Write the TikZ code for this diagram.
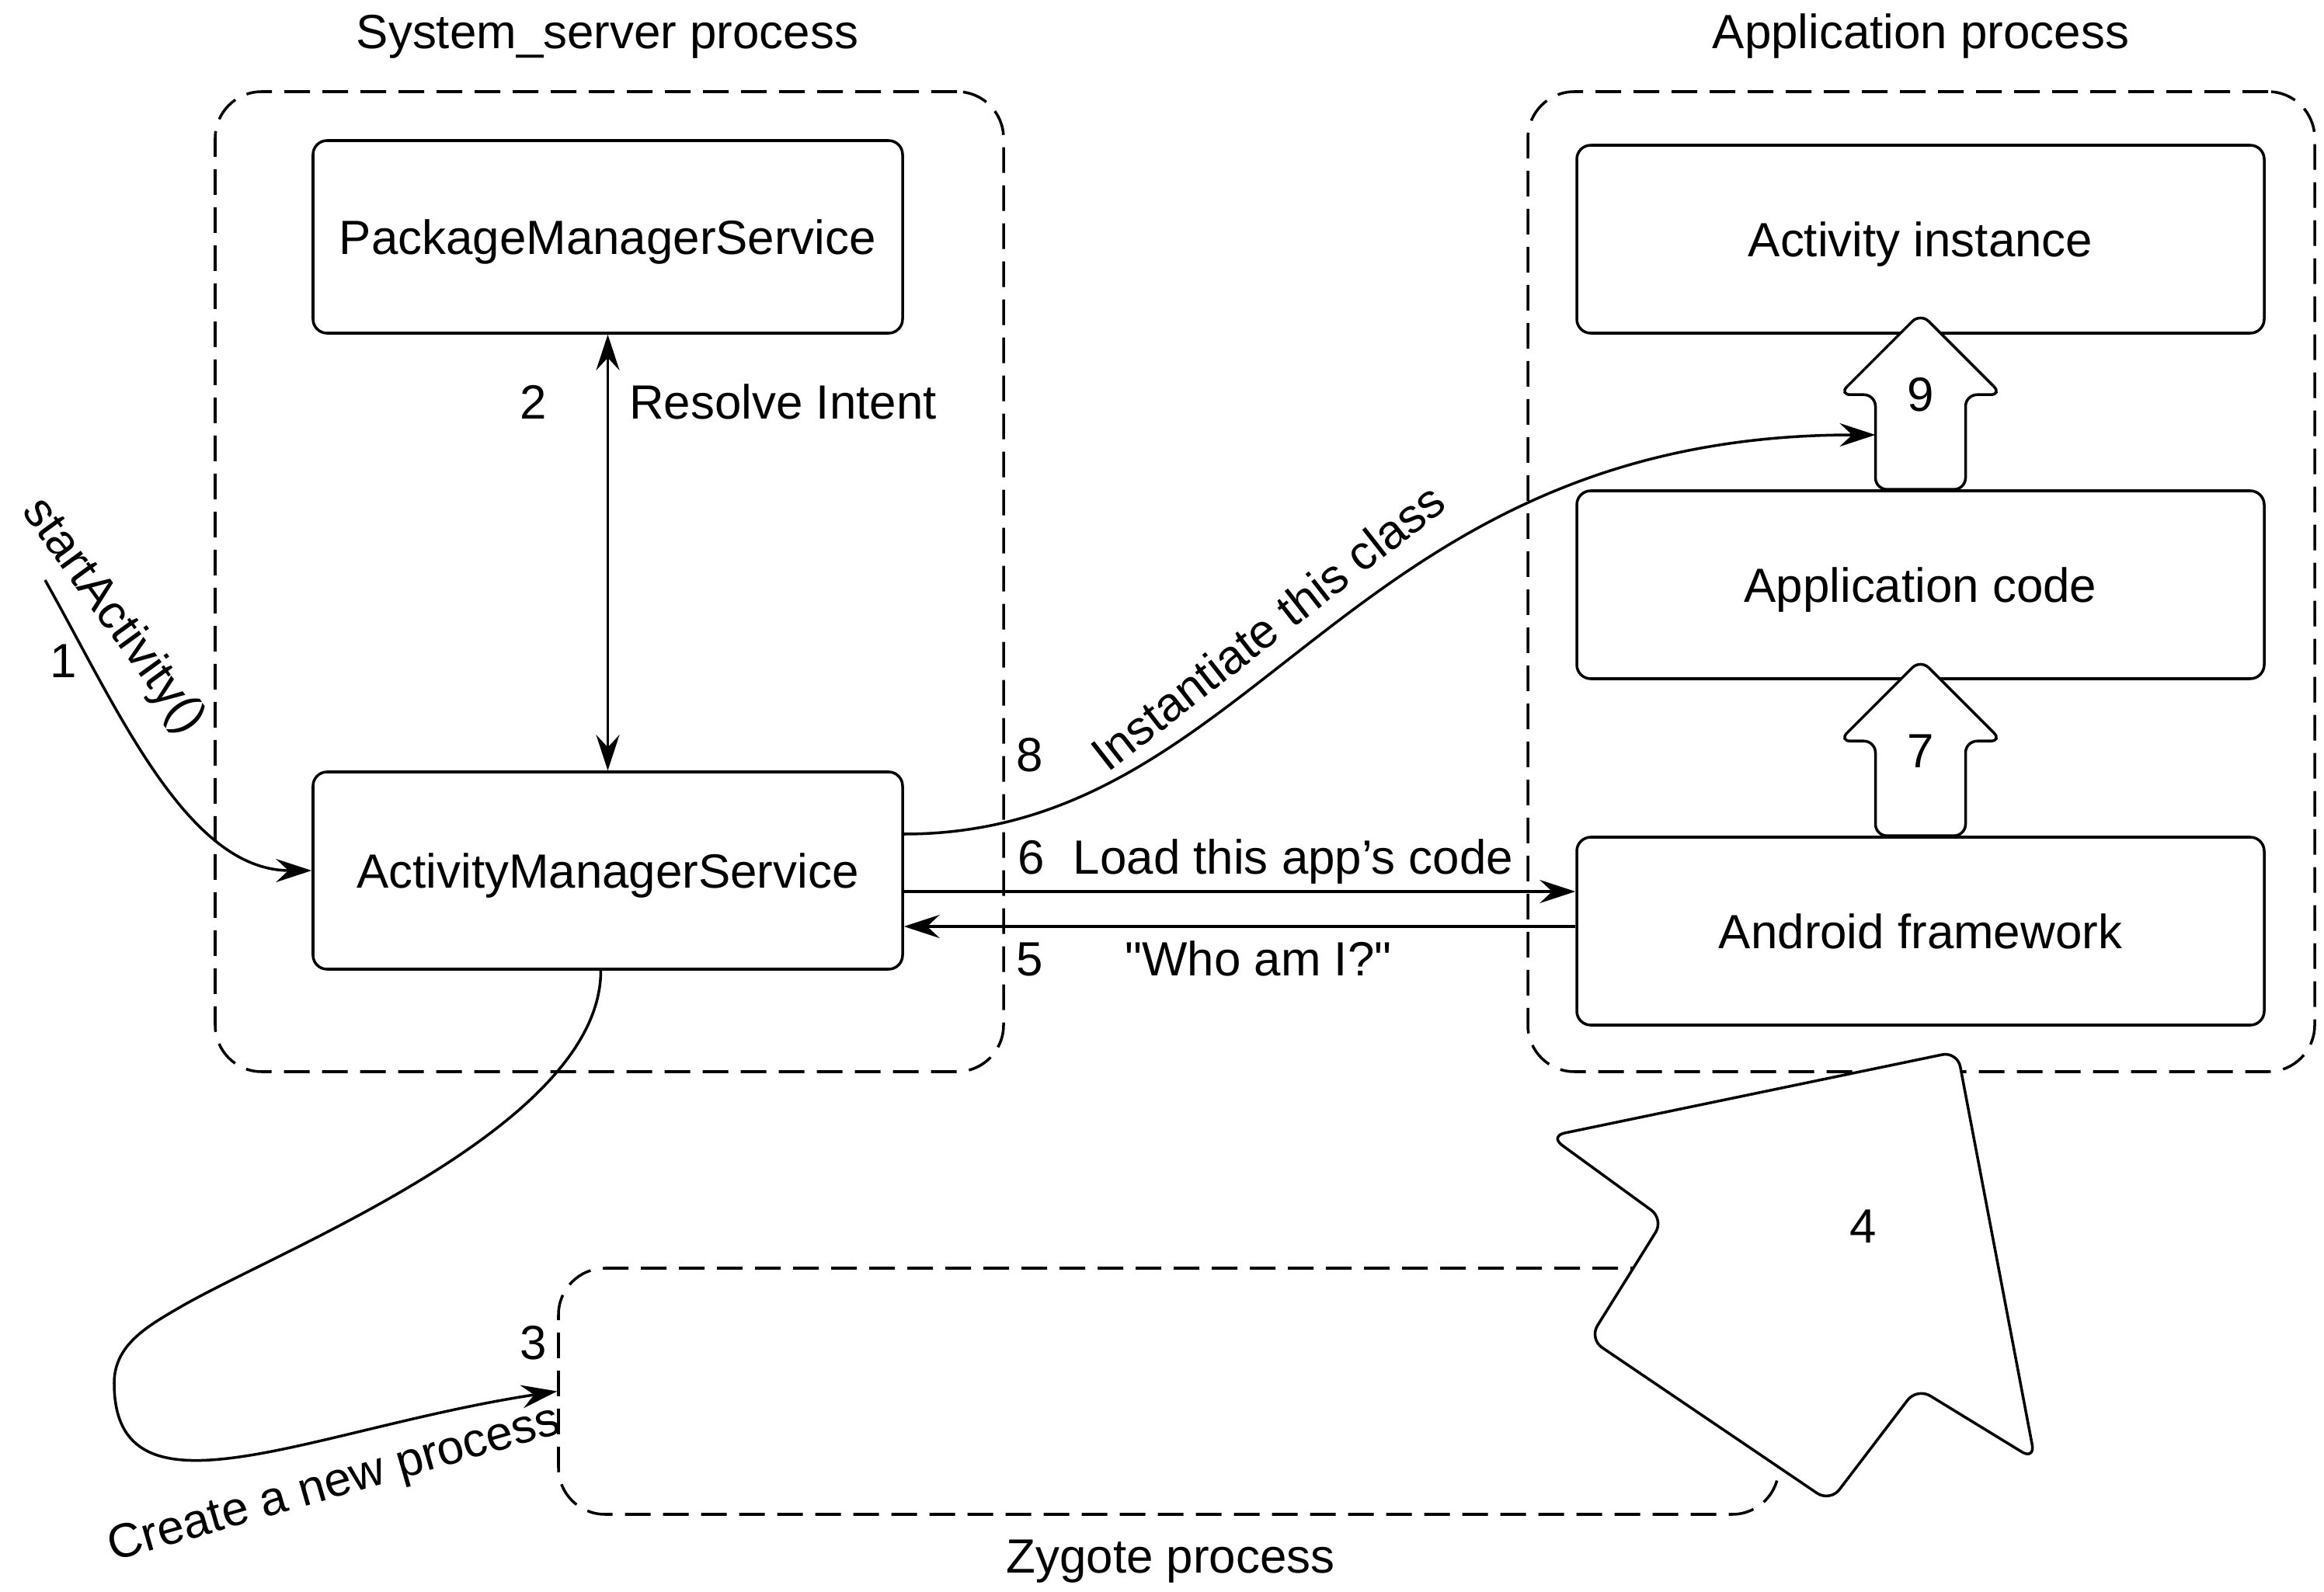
\documentclass[tikz,border=0pt]{standalone}
\usepackage{fontspec}
\setmainfont{Liberation Sans}
\usetikzlibrary{arrows.meta,positioning}

\tikzstyle{procbox}=[draw,line width=1pt,dash pattern=on 3.3mm off 1.6mm,rounded corners=6mm,inner sep=0pt]
\tikzstyle{compbox}=[draw,line width=1pt,rounded corners=1.8mm,inner sep=0pt,text depth=0pt]
\tikzstyle{conn}=[line width=1pt,->]
\tikzstyle{blockarrow}=[draw,fill=white,line width=1pt,rounded corners=1.5mm]

\begin{document}
\begin{tikzpicture}[>={Stealth[length=4.6mm,width=3mm,inset=1.6mm]},font=\fontsize{17.6}{21}\selectfont]
    \useasboundingbox (0,0) rectangle (29.92,-20.50);

    % process boundaries
    \node[procbox,minimum width=10.15cm,minimum height=12.62cm] (sys) at (7.845,-7.49) {};
    \node[procbox,minimum width=10.13cm,minimum height=12.62cm] (app) at (24.735,-7.49) {};
    \node[procbox,minimum width=15.71cm,minimum height=3.17cm] (zyg) at (15.045,-17.915) {};
    \node[anchor=base] (systitle) at (7.82,-0.63) {System\_server process};
    \node[anchor=base] (apptitle) at (24.73,-0.63) {Application process};
    \node[anchor=base] (zygtitle) at (15.07,-20.25) {Zygote process};

    % services and app layers
    \node[compbox,minimum width=7.59cm,minimum height=2.48cm] (pms) at (7.825,-3.05) {PackageManagerService};
    \node[compbox,minimum width=7.59cm,minimum height=2.54cm] (ams) at (7.825,-11.21) {ActivityManagerService};
    \node[compbox,minimum width=8.85cm,minimum height=2.42cm] (act) at (24.725,-3.08) {Activity instance};
    \node[compbox,minimum width=8.85cm,minimum height=2.42cm] (code) at (24.725,-7.53) {Application code};
    \node[compbox,minimum width=8.85cm,minimum height=2.42cm] (fw) at (24.725,-11.99) {Android framework};

    % 1
    \coordinate (start) at (0.58,-7.47);
    \draw[conn] (start) .. controls (1.5,-9.1) and (2.4,-11.21) .. (ams.west);
    \node[rotate=-54] (startlbl) at (1.45,-7.94) {startActivity()};
    \node (n1) at (0.82,-8.51) {1};

    % 2
    \draw[conn,<->] (pms.south) -- (ams.north);
    \node[anchor=base] (n2) at (6.87,-5.40) {2};
    \node[anchor=base] (resolvelbl) at (10.08,-5.40) {Resolve Intent};

    % 3
    \draw[conn] ([xshift=-0.9mm]ams.south) .. controls +(0,-2) and (3.64,-16.07) .. (2.34,-16.82)
        .. controls (1.91,-17.07) and (1.47,-17.31) .. (1.47,-17.81)
        .. controls (1.47,-19.7) and (4.0,-18.4) .. (zyg.west);
    \node (n3) at (6.87,-17.29) {3};
    \node[rotate=16] (createlbl) at (4.31,-19.13) {Create a new process};

    % 5 and 6
    \coordinate (y6) at (0,-11.48);
    \coordinate (y5) at (0,-11.93);
    \draw[conn] (ams.east |- y6) -- (fw.west |- y6);
    \draw[conn] (fw.west |- y5) -- (ams.east |- y5);
    \node[anchor=base] (n6) at (13.28,-11.25) {6};
    \node[anchor=base] (loadlbl) at (16.65,-11.25) {Load this app’s code};
    \node[anchor=base] (n5) at (13.26,-12.56) {5};
    \node[anchor=base] (wholbl) at (16.20,-12.56) {\addfontfeatures{Ligatures=TeXOff}"Who am I?"};

    % 8
    \coordinate (y8) at (0,-10.74);
    \coordinate (a9in) at (24.145,-5.60);
    \draw[conn] (ams.east |- y8) .. controls (16.2,-10.74) and (17.3,-5.60) .. (a9in);
    \node[anchor=base] (n8) at (13.26,-9.93) {8};
    \node[rotate=38] (instlbl) at (16.32,-8.07) {Instantiate this class};

    % 7 and 9
    \foreach \base/\num/\up in {code/9/1.22,fw/7/1.09}{
        \draw[blockarrow,shift={(\base.north)}] (-0.58,0) -- (-0.58,1.22) -- (-1.05,1.22) -- (0,2.27)
            -- (1.05,1.22) -- (0.58,1.22) -- (0.58,0) -- cycle;
        \node at ([yshift=\up cm]\base.north) {\num};
    }

    % 4
    \draw[blockarrow,rounded corners=2mm] (25.20,-13.54) -- (26.20,-18.80) -- (24.68,-17.87) -- (23.56,-19.34)
        -- (20.46,-17.24) -- (21.42,-15.70) -- (19.95,-14.63) -- cycle;
    \node (n4) at (23.99,-15.79) {4};
\end{tikzpicture}
\end{document}
